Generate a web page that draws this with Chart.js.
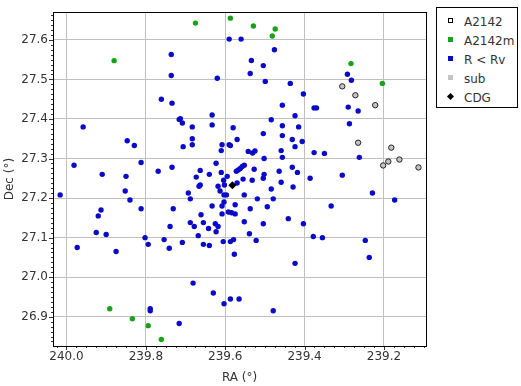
<!DOCTYPE html>
<html><head><meta charset="utf-8">
<script src="https://cdn.jsdelivr.net/npm/chart.js@4/dist/chart.umd.min.js"></script>
<style>
html,body{margin:0;padding:0;background:#fff;}
#wrap{position:relative;width:521px;height:386px;}
canvas{position:absolute;left:0;top:0;}
#legend{position:absolute;left:436px;top:7px;width:80px;height:99px;border:1px solid #000;background:#fff;font-family:'DejaVu Sans',sans-serif;font-size:12px;color:#333;}
.row{position:absolute;left:0;height:19px;line-height:19px;}
.mk{position:absolute;}
.tx{position:absolute;left:27px;white-space:nowrap;}
</style></head>
<body><div id="wrap"><canvas id="c" width="521" height="386"></canvas><div id="legend"></div></div>
<script>
// Axis ticks
const raTicks = [240.0, 239.8, 239.6, 239.4, 239.2];
const decTicks = [26.9, 27.0, 27.1, 27.2, 27.3, 27.4, 27.5, 27.6];

// A2142 (open circles)
const raA2142 = [239.305,239.272,239.222,239.265,239.1815,239.202,239.189,239.161,239.113];
const decA2142 = [27.4825,27.460,27.435,27.340,27.3275,27.2825,27.2925,27.2975,27.2775];

// A2142m (green)
const raA2142m = [239.675,239.587,239.529,239.474,239.4815,239.880,239.283,239.204,239.891,239.834,239.794,239.761];
const decA2142m = [27.6425,27.655,27.635,27.6275,27.610,27.5475,27.540,27.490,26.920,26.895,26.8775,26.8425];

// R < Rv (blue)
const raRv = [239.590,239.560,239.476,239.736,239.534,239.504,239.736,239.537,239.620,239.499,
239.436,239.292,239.282,239.403,239.761,239.734,239.456,239.376,239.370,239.290,
239.265,239.633,239.424,239.716,239.713,239.708,239.484,239.633,239.683,239.580,
239.958,239.456,239.415,239.287,239.504,239.847,239.829,239.683,239.683,239.706,
239.570,239.456,239.431,239.406,239.608,239.590,239.587,239.542,239.531,239.525,
239.459,239.424,239.376,239.350,239.610,239.502,239.456,239.262,239.812,239.981,
239.734,239.769,239.910,239.850,239.663,239.673,239.640,239.623,239.610,239.595,
239.572,239.567,239.562,239.557,239.552,239.527,239.431,239.418,239.464,239.502,
239.504,239.386,239.305,239.604,239.532,239.555,239.663,239.666,239.618,239.602,
239.570,239.613,239.603,239.597,239.484,239.459,239.429,239.693,239.688,239.852,
239.840,240.016,239.552,239.519,239.479,239.229,239.173,239.633,239.608,239.603,
239.575,239.537,239.494,239.333,239.812,239.731,239.913,239.920,239.661,239.608,
239.592,239.584,239.575,239.441,239.403,239.925,239.900,239.802,239.754,239.739,
239.688,239.678,239.655,239.625,239.618,239.623,239.642,239.668,239.552,239.539,
239.504,239.973,239.875,239.794,239.741,239.708,239.655,239.640,239.605,239.587,
239.579,239.522,239.378,239.355,239.247,239.577,239.237,239.424,239.681,239.630,
239.789,239.789,239.587,239.565,239.603,239.479,239.716];
const decRv = [27.602,27.602,27.575,27.563,27.548,27.535,27.510,27.515,27.503,27.495,
27.490,27.513,27.498,27.463,27.450,27.440,27.435,27.428,27.428,27.430,
27.420,27.410,27.408,27.399,27.401,27.390,27.398,27.385,27.380,27.378,
27.380,27.383,27.380,27.388,27.363,27.345,27.333,27.350,27.335,27.330,
27.348,27.358,27.348,27.343,27.335,27.335,27.333,27.318,27.314,27.319,
27.320,27.330,27.315,27.313,27.320,27.300,27.303,27.303,27.290,27.283,
27.278,27.268,27.260,27.255,27.270,27.253,27.260,27.288,27.265,27.255,
27.268,27.271,27.275,27.280,27.283,27.273,27.278,27.265,27.268,27.260,
27.250,27.250,27.258,27.245,27.245,27.248,27.233,27.230,27.230,27.233,
27.238,27.218,27.208,27.208,27.223,27.240,27.228,27.213,27.198,27.218,
27.195,27.208,27.208,27.198,27.198,27.213,27.195,27.180,27.180,27.190,
27.183,27.173,27.178,27.180,27.173,27.173,27.170,27.155,27.158,27.160,
27.165,27.163,27.160,27.148,27.135,27.113,27.108,27.100,27.095,27.128,
27.138,27.128,27.138,27.135,27.128,27.115,27.123,27.105,27.140,27.110,
27.135,27.075,27.065,27.083,27.073,27.088,27.083,27.080,27.090,27.090,
27.095,27.093,27.103,27.100,27.093,27.058,27.050,27.035,26.985,26.960,
26.920,26.915,26.945,26.945,26.933,26.915,26.883];

// sub (grey, same members as A2142 shown underneath)
const raSub = raA2142;
const decSub = decA2142;

// CDG
const raCDG = [239.582];
const decCDG = [27.2325];

const pts = (xs, ys) => xs.map((x, i) => ({x: x, y: ys[i]}));

const BLUE = '#0a0acb', GREEN = '#17a317', GREY = '#c4c4c4';

const datasets = [
  {label:'CDG', data: pts(raCDG, decCDG), pointStyle:'rectRot', pointRadius:4, backgroundColor:'#000', borderColor:'#000', borderWidth:0, order:0},
  {label:'A2142', data: pts(raA2142, decA2142), pointStyle:'circle', pointRadius:2.7, backgroundColor:'rgba(0,0,0,0)', borderColor:'#222', borderWidth:1, order:1},
  {label:'sub', data: pts(raSub, decSub), pointStyle:'circle', pointRadius:2.7, backgroundColor:GREY, borderColor:GREY, borderWidth:0, order:2},
  {label:'A2142m', data: pts(raA2142m, decA2142m), pointStyle:'circle', pointRadius:2.7, backgroundColor:GREEN, borderColor:GREEN, borderWidth:0, order:3},
  {label:'R < Rv', data: pts(raRv, decRv), pointStyle:'circle', pointRadius:2.7, backgroundColor:BLUE, borderColor:BLUE, borderWidth:0, order:4}
];

const frame = {
  id:'frame',
  beforeDatasetsDraw(chart){
    const {ctx, chartArea:a, scales} = chart;
    ctx.save();
    ctx.strokeStyle = '#333'; ctx.lineWidth = 1;
    const xs = scales.x, ys = scales.y;
    ctx.beginPath();
    for (let k = 0; k <= 60; k++) {
      const v = 239.0 + k * 0.025;
      if (v < xs.min - 1e-9 || v > xs.max + 1e-9) continue;
      const px = Math.round(xs.getPixelForValue(v)) + 0.5;
      const major = (k % 8 === 0);
      ctx.moveTo(px, a.bottom); ctx.lineTo(px, a.bottom + (major ? 4 : 2));
    }
    for (let k = 0; k <= 80; k++) {
      const v = 26.8 + k * 0.0125;
      if (v < ys.min - 1e-9 || v > ys.max + 1e-9) continue;
      const py = Math.round(ys.getPixelForValue(v)) + 0.5;
      const major = (k % 8 === 0);
      ctx.moveTo(a.left, py); ctx.lineTo(a.left - (major ? 4 : 2), py);
    }
    ctx.stroke();
    ctx.strokeStyle = '#000';
    ctx.strokeRect(Math.round(a.left) + 0.5, Math.round(a.top) + 0.5, Math.round(a.right - a.left), Math.round(a.bottom - a.top));
    ctx.restore();
  }
};

Chart.defaults.font.family = "'DejaVu Sans', sans-serif";
Chart.defaults.font.size = 12;
Chart.defaults.color = '#333';

const chart = new Chart(document.getElementById('c'), {
  type:'scatter',
  data:{datasets},
  options:{
    responsive:false, animation:false, events:[],
    layout:{padding:{left:0, top:8, right:95, bottom:0}},
    plugins:{legend:{display:false}, tooltip:{enabled:false}},
    scales:{
      x:{type:'linear', reverse:true, min:239.094, max:240.034,
        afterBuildTicks(s){ s.ticks = raTicks.map(v => ({value:v})); },
        afterFit(s){ s.height = 40; },
        ticks:{padding:4, callback:v => Number(v).toFixed(1)},
        grid:{color:'#c0c0c0', lineWidth:1, drawTicks:false},
        border:{display:false},
        title:{display:true, text:'RA (°)', padding:{top:0,bottom:1}, font:{size:12}}
      },
      y:{type:'linear', min:26.826, max:27.670,
        afterBuildTicks(s){ s.ticks = decTicks.map(v => ({value:v})); },
        afterFit(s){ s.width = 53; },
        ticks:{padding:5, callback:v => Number(v).toFixed(1)},
        grid:{color:'#c0c0c0', lineWidth:1, drawTicks:false},
        border:{display:false},
        title:{display:true, text:'Dec (°)', padding:{top:3,bottom:0}, font:{size:12}}
      }
    }
  },
  plugins:[frame]
});

// HTML legend
const legendOrder = [
  {label:'A2142', style:'open'},
  {label:'A2142m', style:'sq', color:GREEN},
  {label:'R < Rv', style:'sq', color:BLUE},
  {label:'sub', style:'sq', color:GREY},
  {label:'CDG', style:'diamond'}
];
const lg = document.getElementById('legend');
legendOrder.forEach((e, i) => {
  const row = document.createElement('div');
  row.className = 'row';
  row.style.top = (5 + i * 19) + 'px';
  row.style.width = '80px';
  const mk = document.createElement('div');
  mk.className = 'mk';
  if (e.style === 'open') {
    Object.assign(mk.style, {left:'11px', top:'5px', width:'3px', height:'3px', border:'1px solid #000', background:'#fff'});
  } else if (e.style === 'sq') {
    Object.assign(mk.style, {left:'11px', top:'5px', width:'5px', height:'5px', background:e.color});
  } else {
    Object.assign(mk.style, {left:'11px', top:'5px', width:'5px', height:'5px', background:'#000', transform:'rotate(45deg)'});
  }
  const tx = document.createElement('div');
  tx.className = 'tx';
  tx.textContent = e.label;
  row.appendChild(mk); row.appendChild(tx);
  lg.appendChild(row);
});
</script></body></html>
